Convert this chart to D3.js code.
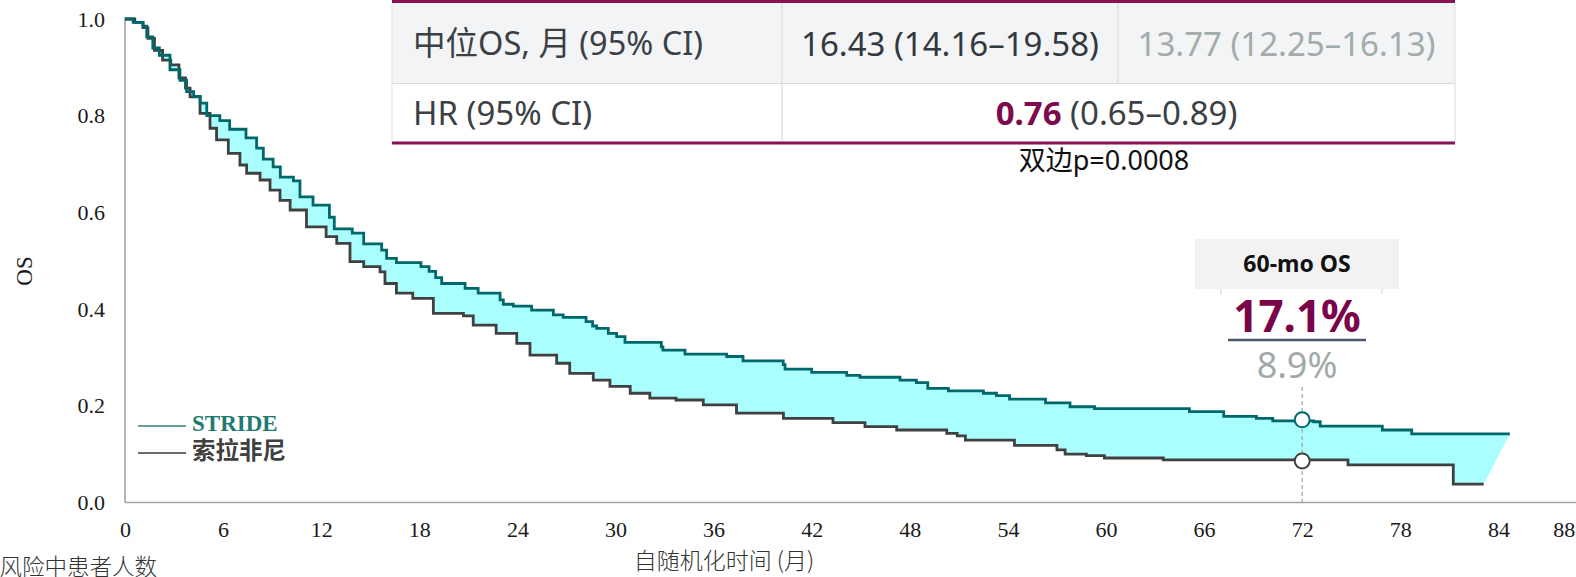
<!DOCTYPE html>
<html><head><meta charset="utf-8">
<script src="https://cdn.jsdelivr.net/npm/d3@7/dist/d3.min.js"></script>
<style>
html,body{margin:0;padding:0;background:#fff;}
svg{display:block;}
</style></head>
<body>
<svg id="c" width="1576" height="577"></svg>
<script>
// ---- data (months, survival probability) ----
const xTicks = [0,6,12,18,24,30,36,42,48,54,60,66,72,78,84,88];
const yTicks = [0,0.2,0.4,0.6,0.8,1.0];

const strideTime = [0,0.5,1.1,1.33,1.7,2.1,2.75,3.36,3.77,4.2,4.6,5.0,5.8,6.4,7.4,8.05,8.46,9.06,9.5,10.3,10.7,11.5,12.5,12.8,13.9,14.6,15.7,16.0,16.6,18.1,18.6,19.0,19.37,20.8,21.6,22.94,23.14,23.75,24.87,26.2,26.8,28.2,28.6,28.85,29.56,30.07,30.58,32.8,32.9,34.25,36.8,37.8,40.26,40.37,42.0,44.14,44.95,47.4,48.4,49.1,50.36,52.5,53.3,54.1,56.3,57.8,59.3,65.1,67.2,69.2,70.2,72.7,73.1,76.9,78.7,84.7];
const strideSurv = [1.0,0.993,0.985,0.963,0.94,0.925,0.895,0.873,0.85,0.84,0.826,0.80,0.79,0.772,0.754,0.733,0.71,0.694,0.673,0.665,0.632,0.615,0.59,0.566,0.557,0.535,0.522,0.505,0.496,0.488,0.478,0.465,0.453,0.443,0.433,0.419,0.41,0.406,0.398,0.388,0.383,0.374,0.365,0.36,0.35,0.343,0.331,0.322,0.315,0.307,0.302,0.293,0.285,0.276,0.269,0.263,0.259,0.253,0.248,0.236,0.231,0.226,0.221,0.214,0.206,0.198,0.194,0.188,0.178,0.174,0.169,0.167,0.158,0.150,0.142,0.142];

const sorafTime = [0,0.6,1.1,1.4,1.8,2.3,2.8,3.3,3.7,3.98,4.59,5.2,5.6,6.32,7.03,7.44,8.26,8.87,9.48,10.1,11.1,12.3,12.95,13.76,14.6,15.6,15.9,16.6,17.6,18.86,20.7,21.3,22.7,23.96,24.77,26.4,27.2,28.64,29.66,30.9,32.1,33.7,35.37,37.4,40.27,43.3,45.26,47.2,50.26,50.9,51.4,54.4,57.0,57.5,58.8,59.9,63.5,74.8,81.24,83.1];
const sorafSurv = [1.0,0.993,0.982,0.96,0.935,0.915,0.905,0.878,0.857,0.839,0.805,0.774,0.75,0.722,0.698,0.681,0.667,0.646,0.625,0.605,0.57,0.55,0.536,0.498,0.488,0.477,0.453,0.433,0.422,0.391,0.386,0.367,0.35,0.329,0.305,0.288,0.267,0.253,0.24,0.226,0.216,0.212,0.202,0.185,0.174,0.165,0.157,0.15,0.143,0.138,0.129,0.118,0.109,0.100,0.097,0.092,0.088,0.078,0.038,0.038];

const markerTime = 72;
const markerVals = [0.171, 0.086];   // STRIDE, sorafenib

const seriesNames = ["STRIDE", "索拉非尼"];
const tableRow1 = ["中位OS, 月 (95% CI)", "16.43 (14.16–19.58)", "13.77 (12.25–16.13)"];
const tableRow2Label = "HR (95% CI)";
const hrValue = "0.76";
const hrCI = " (0.65–0.89)";
const pText = "双边p=0.0008";
const osBoxTitle = "60-mo OS";
const osStride = "17.1%";
const osSoraf = "8.9%";

// ---- setup ----
const svg = d3.select("#c");
const x = d3.scaleLinear().domain([0, 88]).range([125, 125 + 88 * 16.35]);
const y = d3.scaleLinear().domain([0, 1]).range([502.5, 19]);

const serif = "'Liberation Serif','Times New Roman',serif";
const sans = "'Noto Sans','Open Sans','Noto Sans CJK SC',sans-serif";
const cjk = "'Noto Sans','Noto Sans CJK SC',sans-serif";

function stepPts(ts, ss) {
  const pts = [];
  for (let i = 0; i < ts.length; i++) {
    if (i > 0) pts.push([ts[i], ss[i - 1]]);
    pts.push([ts[i], ss[i]]);
  }
  return pts;
}
const strideData = strideTime.map((t, i) => [t, strideSurv[i]]);
const sorafData = sorafTime.map((t, i) => [t, sorafSurv[i]]);

// fill between
const poly = stepPts(strideTime, strideSurv).concat(stepPts(sorafTime, sorafSurv).reverse());
const lin = d3.line().x(d => x(d[0])).y(d => y(d[1]));
svg.append("path").attr("d", lin(poly) + "Z").attr("fill", "#aafefe").attr("stroke", "none");

// dashed line at 72
svg.append("line")
  .attr("x1", x(markerTime)).attr("x2", x(markerTime))
  .attr("y1", 387).attr("y2", y(0))
  .attr("stroke", "#a8a8a8").attr("stroke-width", 1.3).attr("stroke-dasharray", "4,3");

// axes
const gx = svg.append("g").attr("transform", `translate(0,${y(0)})`)
  .call(d3.axisBottom(x).tickValues(xTicks).tickSize(0).tickPadding(19));
gx.select(".domain").attr("d", `M${x(0)},0H1576`).attr("stroke", "#a3a3a3").attr("stroke-width", 1.6);
gx.selectAll("text").attr("font-family", serif).attr("font-size", 22).attr("fill", "#1a1a1a");

const gy = svg.append("g").attr("transform", `translate(${x(0)},0)`)
  .call(d3.axisLeft(y).tickValues(yTicks).tickFormat(d3.format(".1f")).tickSize(0).tickPadding(20));
gy.select(".domain").attr("d", `M0,${y(0)}V${y(1) - 2}`).attr("stroke", "#a3a3a3").attr("stroke-width", 1.6);
gy.selectAll("text").attr("font-family", serif).attr("font-size", 22).attr("fill", "#1a1a1a");

// curves
const step = d3.line().x(d => x(d[0])).y(d => y(d[1])).curve(d3.curveStepAfter);
svg.append("path").attr("d", step(sorafData)).attr("fill", "none")
  .attr("stroke", "#404040").attr("stroke-width", 2.8).attr("stroke-linejoin", "miter");
svg.append("path").attr("d", step(strideData)).attr("fill", "none")
  .attr("stroke", "#00676a").attr("stroke-width", 2.8).attr("stroke-linejoin", "miter");

// markers
svg.selectAll("circle.mk").data(markerVals).enter().append("circle")
  .attr("cx", x(markerTime)).attr("cy", d => y(d)).attr("r", 7.5)
  .attr("fill", "#fff").attr("stroke-width", 2)
  .attr("stroke", (d, i) => i === 0 ? "#00676a" : "#404040");

// axis titles
svg.append("text").attr("transform", "translate(32,271) rotate(-90)")
  .attr("text-anchor", "middle").attr("font-family", serif).attr("font-size", 23)
  .attr("fill", "#1a1a1a").text("OS");
svg.append("text").attr("x", 724).attr("y", 569).attr("text-anchor", "middle")
  .attr("font-family", "'Noto Sans CJK SC',sans-serif").attr("font-weight", 300)
  .attr("font-size", 23).attr("fill", "#333").text("自随机化时间 (月)");
svg.append("text").attr("x", 157).attr("y", 575).attr("text-anchor", "end")
  .attr("font-family", "'Noto Sans CJK SC',sans-serif").attr("font-weight", 300)
  .attr("font-size", 22.5).attr("fill", "#333").text("风险中患者人数");

// legend
const legColors = ["#2e8076", "#3a3a3a"];
const legY = [426, 453];
seriesNames.forEach((n, i) => {
  svg.append("line").attr("x1", 138).attr("x2", 186).attr("y1", legY[i]).attr("y2", legY[i])
    .attr("stroke", legColors[i]).attr("stroke-width", 1.3);
  svg.append("text").attr("x", 192).attr("y", i === 0 ? 431 : 459)
    .attr("font-family", i === 0 ? serif : "'Noto Sans CJK SC',sans-serif")
    .attr("font-weight", "bold").attr("font-size", i === 0 ? 23 : 23.5)
    .attr("fill", i === 0 ? "#1f7a70" : "#404040").text(n);
});

// table
const tL = 392, tR = 1455, c1 = 782, c2 = 1118;
const r0 = 0, r1 = 83.5, r2 = 143;
svg.append("rect").attr("x", tL).attr("y", r0).attr("width", tR - tL).attr("height", r1 - r0).attr("fill", "#f3f4f6");
svg.append("line").attr("x1", tL).attr("x2", tR).attr("y1", r1).attr("y2", r1).attr("stroke", "#dadada").attr("stroke-width", 1.2);
svg.append("line").attr("x1", c1).attr("x2", c1).attr("y1", 3).attr("y2", r2).attr("stroke", "#dadada").attr("stroke-width", 1.2);
svg.append("line").attr("x1", c2).attr("x2", c2).attr("y1", 3).attr("y2", r1).attr("stroke", "#dadada").attr("stroke-width", 1.2);
svg.append("line").attr("x1", tR).attr("x2", tR).attr("y1", 3).attr("y2", r2).attr("stroke", "#e2e2e2").attr("stroke-width", 1.2);
svg.append("line").attr("x1", tL).attr("x2", tL).attr("y1", 3).attr("y2", r2).attr("stroke", "#e2e2e2").attr("stroke-width", 1.2);
svg.append("rect").attr("x", tL).attr("y", 0).attr("width", tR - tL).attr("height", 3).attr("fill", "#8a1152");
svg.append("rect").attr("x", tL).attr("y", r2 - 1.5).attr("width", tR - tL).attr("height", 3).attr("fill", "#8a1152");

const tfs = 33;
svg.append("text").attr("x", 413).attr("y", 44).attr("dy", "0.35em")
  .attr("font-family", cjk).attr("font-size", 32.5).attr("fill", "#3b4045").text(tableRow1[0]);
svg.append("text").attr("x", (c1 + c2) / 2).attr("y", 44).attr("dy", "0.35em").attr("text-anchor", "middle")
  .attr("font-family", sans).attr("font-size", tfs).attr("fill", "#33383d").text(tableRow1[1]);
svg.append("text").attr("x", (c2 + tR) / 2).attr("y", 44).attr("dy", "0.35em").attr("text-anchor", "middle")
  .attr("font-family", sans).attr("font-size", tfs).attr("fill", "#a3abab").text(tableRow1[2]);
svg.append("text").attr("x", 413).attr("y", 113).attr("dy", "0.35em")
  .attr("font-family", sans).attr("font-size", tfs).attr("fill", "#3b4045").text(tableRow2Label);
const hr = svg.append("text").attr("x", (c1 + tR) / 2 - 2).attr("y", 113).attr("dy", "0.35em").attr("text-anchor", "middle")
  .attr("font-family", sans).attr("font-size", tfs).attr("fill", "#3b4045");
hr.append("tspan").attr("font-weight", "bold").attr("fill", "#7d0a4e").text(hrValue);
hr.append("tspan").text(hrCI);
svg.append("text").attr("x", 1104).attr("y", 161).attr("dy", "0.35em").attr("text-anchor", "middle")
  .attr("font-family", cjk).attr("font-size", 27).attr("fill", "#111").text(pText);

// 60-mo OS annotation
const cx = 1297;
svg.append("rect").attr("x", 1195).attr("y", 239).attr("width", 204).attr("height", 50).attr("fill", "#f2f2f2");
svg.append("text").attr("x", cx).attr("y", 264).attr("dy", "0.35em").attr("text-anchor", "middle")
  .attr("font-family", sans).attr("font-weight", "bold").attr("font-size", 23).attr("fill", "#111").text(osBoxTitle);
[1221, 1382].forEach(xx => svg.append("line").attr("x1", xx).attr("x2", xx).attr("y1", 289).attr("y2", 294)
  .attr("stroke", "#cfcfcf").attr("stroke-width", 1));
svg.append("text").attr("x", cx).attr("y", 332).attr("text-anchor", "middle")
  .attr("font-family", sans).attr("font-weight", "bold").attr("font-size", 44).attr("fill", "#7a0349").text(osStride);
svg.append("line").attr("x1", 1228).attr("x2", 1366).attr("y1", 340).attr("y2", 340)
  .attr("stroke", "#4b5668").attr("stroke-width", 2.5);
svg.append("text").attr("x", cx).attr("y", 378).attr("text-anchor", "middle")
  .attr("font-family", sans).attr("font-size", 36).attr("fill", "#a2aaa8").text(osSoraf);
</script>
</body></html>
